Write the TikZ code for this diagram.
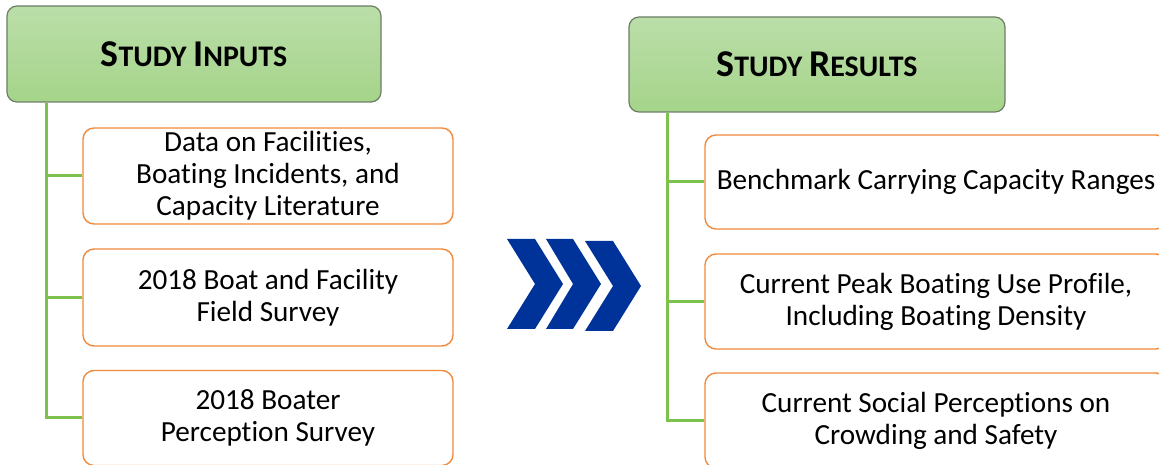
\documentclass[tikz,border=0pt]{standalone}
\usepackage{fontspec}
\setmainfont{Carlito}[Ligatures=NoCommon]
\usetikzlibrary{calc}
\definecolor{hdrtop}{HTML}{BBDEA9}
\definecolor{hdrbot}{HTML}{A5D48A}
\definecolor{hdrline}{HTML}{6E7E66}
\definecolor{boxline}{HTML}{F08A3C}
\definecolor{trunk}{HTML}{7CC24C}
\definecolor{chev}{HTML}{003399}
\newcommand{\bigS}[1]{{\fontsize{38}{40}\selectfont #1}}
\newcommand{\smS}[1]{{\fontsize{30}{32}\selectfont #1}}
\tikzset{
  hdr/.style={draw=hdrline, line width=1.2bp, rounded corners=10bp,
    top color=hdrtop, bottom color=hdrbot, inner sep=0pt,
    font=\bfseries, text=black},
  itembox/.style={draw=boxline, line width=1.4bp, rounded corners=11bp, fill=white,
    inner sep=0pt, align=center, font=\fontsize{29.3}{32}\selectfont, text=black},
  branch/.style={draw=trunk, line width=3bp},
  chevshape/.style={fill=chev, draw=none}
}
\begin{document}
\begin{tikzpicture}[x=1bp,y=-1bp]
\useasboundingbox (0,0) rectangle (1159,465);
\clip (0,0) rectangle (1159,465);
% left column
\node[hdr, minimum width=374bp, minimum height=96bp] (lh) at (194,54)
  {\bigS{S}\smS{TUDY }\bigS{I}\smS{NPUTS}};
\node[itembox, minimum width=370bp, minimum height=96bp] (l1) at (268,176)
  {Data on Facilities,\\Boating Incidents, and\\Capacity Literature};
\node[itembox, minimum width=370bp, minimum height=97bp] (l2) at (268,297.5)
  {2018 Boat and Facility\\Field Survey};
\node[itembox, minimum width=370bp, minimum height=95bp] (l3) at (268,418)
  {2018 Boater\\Perception Survey};
\coordinate (lt) at (46,418);
\draw[branch] (lh.south -| lt) |- (l3.west);
\draw[branch] (l1.west) -- (l1.west -| lt);
\draw[branch] (l2.west) -- (l2.west -| lt);
% right column
\node[hdr, minimum width=376bp, minimum height=95bp] (rh) at (817,64.5)
  {\bigS{S}\smS{TUDY }\bigS{R}\smS{ESULTS}};
\node[itembox, minimum width=462bp, minimum height=94bp] (r1) at (936,182)
  {Benchmark Carrying Capacity Ranges};
\node[itembox, minimum width=462bp, minimum height=95bp] (r2) at (936,301.5)
  {Current Peak Boating Use Profile,\\Including Boating Density};
\node[itembox, minimum width=462bp, minimum height=95bp] (r3) at (936,420.5)
  {Current Social Perceptions on\\Crowding and Safety};
\coordinate (rt) at (667,420);
\draw[branch] (rh.south -| rt) |- (r3.west);
\draw[branch] (r1.west) -- (r1.west -| rt);
\draw[branch] (r2.west) -- (r2.west -| rt);
% chevrons
\fill[chevshape] (507,239) -- (535,239) -- (563,284) -- (535,329) -- (507,329) -- (535,284) -- cycle;
\fill[chevshape] (546,239) -- (573,239) -- (601,284) -- (573,329) -- (546,329) -- (573,284) -- cycle;
\fill[chevshape] (585,241) -- (613,241) -- (641,286) -- (613,331) -- (585,331) -- (613,286) -- cycle;
\end{tikzpicture}
\end{document}
